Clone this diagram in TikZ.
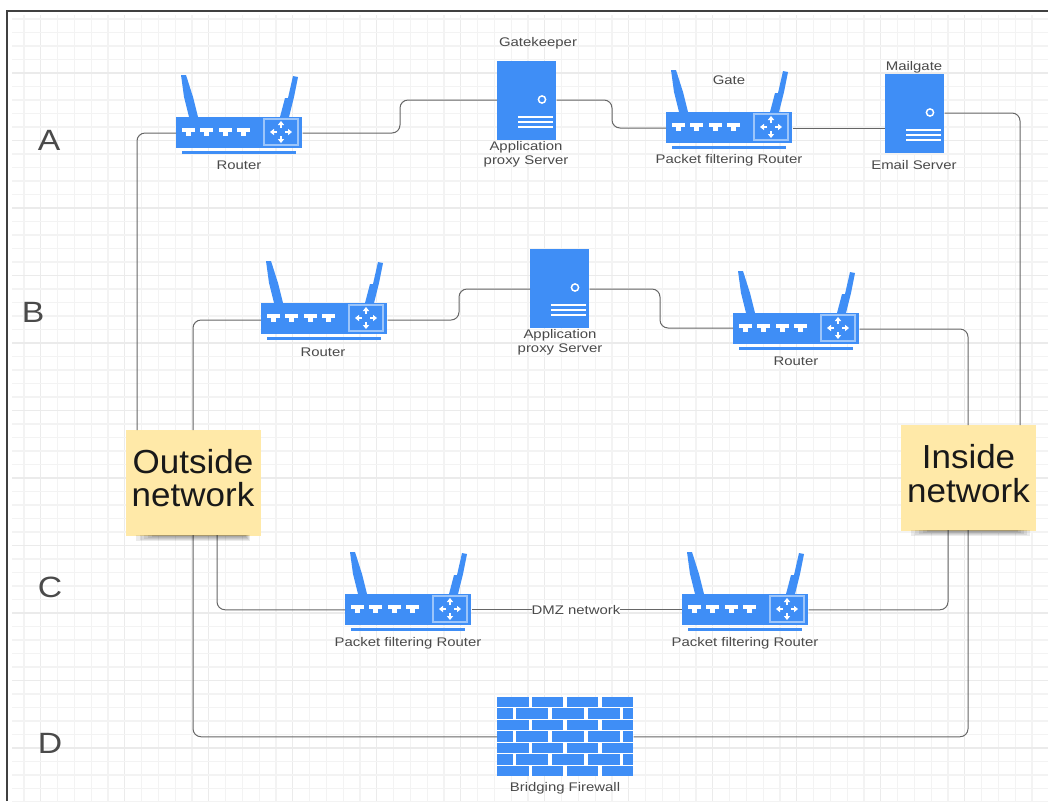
\documentclass[tikz,border=0pt]{standalone}
\usepackage{fontspec}
\setmainfont{Liberation Sans}
\newfontfamily\lblfont[FakeStretch=1.19]{Liberation Sans}
\newfontfamily\rowfont[FakeStretch=1.15]{Liberation Sans}
\newfontfamily\notefont[FakeStretch=1.05]{Liberation Sans}
\definecolor{bl}{HTML}{3F8EF6}
\definecolor{lb}{HTML}{9CC5FA}
\definecolor{ln}{HTML}{666666}
\definecolor{tx}{HTML}{4A4A4A}
\definecolor{sticky}{HTML}{FFE9A8}
\definecolor{gmin}{HTML}{F3F3F3}
\definecolor{gmaj}{HTML}{EBEBEB}
\tikzset{
 conn/.style={draw=ln,line width=0.75pt,rounded corners=6pt},
 lbl/.style={text=tx,font=\lblfont\fontsize{9.4pt}{10.6pt}\selectfont,align=center,inner sep=0pt},
 rowlbl/.style={text=tx,font=\rowfont\fontsize{22pt}{24pt}\selectfont,inner sep=0pt},
 stickynote/.style={fill=sticky,inner sep=0pt,minimum width=101pt,minimum height=79pt,anchor=north west},
 notetext/.style={text=black!90,font=\notefont\fontsize{25pt}{25pt}\selectfont,align=center,inner sep=0pt},
 routerbody/.style={fill=bl,inner sep=0pt,minimum width=94.5pt,minimum height=23.25pt,anchor=north west},
 serverbody/.style={fill=bl,inner sep=0pt,minimum width=44.25pt,minimum height=59.25pt,anchor=north west},
 wallbody/.style={fill=white,inner sep=0pt,minimum width=102pt,minimum height=59.25pt,anchor=north west},
 wh/.style={fill=white,draw=none},
}
\newcommand{\routerat}[3]{%
 \node[routerbody] (#1) at (#2,#3) {};
 \begin{scope}[shift={(#2,#3)}]
  \fill[bl] (5,-42) -- (10,-42) -- (17,-20) -- (22,0) -- (13,0) -- (8,-20) -- cycle;
  \fill[bl] (117,-41) -- (122,-40) -- (118,-20) -- (113,0) -- (104,0) -- (109,-19) -- (112,-19) -- cycle;
  \fill[bl] (6,34) rectangle (120,36.5);
  \foreach \px in {6,24,43,61}{
   \fill[wh] (\px,11) rectangle (\px+13,14.5);
   \fill[wh] (\px+4,14) rectangle (\px+9,19);
  }
  \draw[draw=lb,line width=0.9pt] (88,2) rectangle (122,28);
  \foreach \r in {0,90,180,270}{
   \begin{scope}[shift={(105,15)},rotate=\r]
    \draw[white,line width=1pt] (4,0) -- (8,0);
    \fill[white] (11,0) -- (7,-3.2) -- (7,3.2) -- cycle;
   \end{scope}
  }
 \end{scope}
}
\newcommand{\serverat}[3]{%
 \node[serverbody] (#1) at (#2,#3) {};
 \begin{scope}[shift={(#2,#3)}]
  \draw[white,line width=1.1pt] (45,38.5) circle (3.6);
  \foreach \ly in {56,61,66}{\draw[white,line width=0.9pt] (21,\ly) -- (56,\ly);}
 \end{scope}
}
\begin{document}
\begin{tikzpicture}[x=0.75pt,y=-0.75pt]
\useasboundingbox (0,0) rectangle (1048,801);
\fill[white] (0,0) rectangle (1048,801);
% grid
\foreach \k in {0,...,61}{
 \pgfmathsetmacro{\gx}{24+16.8*\k}
 \pgfmathtruncatemacro{\md}{mod(\k+4,5)}
 \ifnum\md=0 \draw[gmaj,line width=1pt] (\gx,15) -- (\gx,801);
 \else \draw[gmin,line width=0.9pt] (\gx,15) -- (\gx,801);\fi
}
\foreach \k in {0,...,58}{
 \pgfmathsetmacro{\gy}{19+13.5*\k}
 \pgfmathtruncatemacro{\md}{mod(\k+1,5)}
 \ifnum\md=0 \draw[gmaj,line width=1pt] (12,\gy) -- (1048,\gy);
 \else \draw[gmin,line width=0.9pt] (12,\gy) -- (1048,\gy);\fi
}
% frame
\draw[black!75,line width=1.4pt] (7,801) -- (7,11) -- (1048,11);
% row letters
\node[rowlbl] (la) at (49,140) {A};
\node[rowlbl] (lb) at (33,312) {B};
\node[rowlbl] (lc) at (50,587) {C};
\node[rowlbl] (ld) at (50,743) {D};
% equipment
\routerat{ra}{176}{117}
\routerat{rg}{666}{112}
\routerat{rb}{261}{303}
\routerat{rc}{733}{313}
\routerat{pa}{345}{594}
\routerat{pb}{682}{594}
\serverat{gk}{497}{61}
\serverat{ml}{885}{74}
\serverat{ap}{530}{249}
\node[wallbody] (fw) at (497,697) {};
\foreach \ry in {0,2,4,6}{
 \foreach \a/\b in {497/529,532/563,567/598,602/633}{
  \fill[bl] (\a,697+\ry*11.45) rectangle (\b,707.3+\ry*11.45);
 }
}
\foreach \ry in {1,3,5}{
 \foreach \a/\b in {497/513,516/548,552/584,588/620,623/633}{
  \fill[bl] (\a,697+\ry*11.45) rectangle (\b,707.3+\ry*11.45);
 }
}
% stickies
\node[stickynote] (out) at (126,430) {};
\node[stickynote] (ins) at (901,425) {};
\node[notetext] (outt) at (193,478) {Outside\\network};
\node[notetext] (inst) at (968.5,473.5) {Inside\\network};
% free ends on the notes
\coordinate (ota) at (137,430);
\coordinate (otb) at (193,430);
\coordinate (otc) at (217,535);
\coordinate (otd) at (193,535);
\coordinate (ina) at (1020,425);
\coordinate (inb) at (968,425);
\coordinate (inc) at (948,530);
\coordinate (ind) at (968,530);
% connectors
\draw[conn] (ra.west |- 0,133) -| (ota);
\draw[conn] (ra.east |- 0,133) -- (400,133) -- (400,100) -- (gk.west |- 0,100);
\draw[conn] (gk.east |- 0,100) -- (612,100) -- (612,128) -- (rg.west |- 0,128);
\draw[conn] (rg.east |- 0,128) -- (ml.west |- 0,128);
\draw[conn] (ml.east |- 0,113) -| (ina);
\draw[conn] (rb.west |- 0,320) -| (otb);
\draw[conn] (rb.east |- 0,320) -- (459,320) -- (459,289) -- (ap.west |- 0,289);
\draw[conn] (ap.east |- 0,289) -- (660,289) -- (660,328) -- (rc.west |- 0,328);
\draw[conn] (rc.east |- 0,329) -| (inb);
\draw[conn] (otc) |- (pa.west);
\draw[conn] (pa.east) -- (pb.west);
\draw[conn] (pb.east) -| (inc);
\draw[conn] (otd) |- (fw.west);
\draw[conn] (fw.east) -| (ind);
% note shadows
\foreach \i in {0,1,2,3,4}{
 \fill[black,opacity=0.08] (136+\i*4,535) rectangle (250-\i*1,541-\i);
 \fill[black,opacity=0.08] (911+\i*4,530) rectangle (1030-\i*3,536-\i);
}
% labels
\node[lbl] (t1) at (239,165) {Router};
\node[lbl] (t2) at (538,43) {Gatekeeper};
\node[lbl] (t3) at (526,154) {Application\\proxy Server};
\node[lbl] (t4) at (729,80) {Gate};
\node[lbl] (t5) at (729,160) {Packet filtering Router};
\node[lbl] (t6) at (914,67) {Mailgate};
\node[lbl] (t7) at (914,165) {Email Server};
\node[lbl] (t8) at (323,352) {Router};
\node[lbl] (t9) at (560,342) {Application\\proxy Server};
\node[lbl] (t10) at (796,361) {Router};
\node[lbl] (t11) at (408,643) {Packet filtering Router};
\node[lbl] (t12) at (745,643) {Packet filtering Router};
\node[lbl,fill=white,inner xsep=0pt,inner ysep=1pt] (t13) at (576,610) {DMZ network};
\node[lbl] (t14) at (565,788) {Bridging Firewall};
\end{tikzpicture}
\end{document}
